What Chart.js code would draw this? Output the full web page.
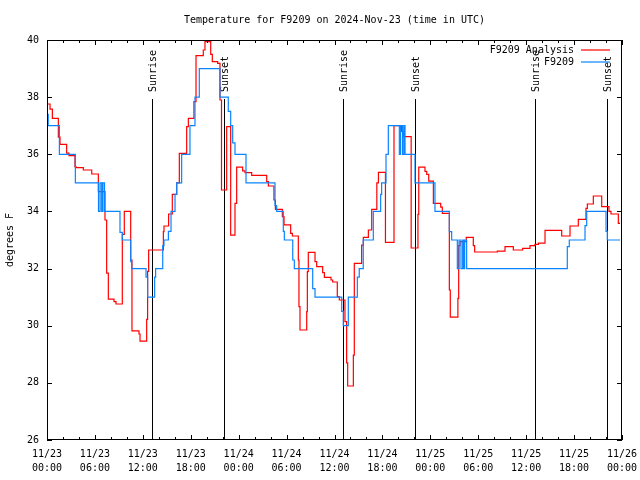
<!DOCTYPE html>
<html>
<head>
<meta charset="utf-8">
<script src="https://cdn.jsdelivr.net/npm/chart.js@4/dist/chart.umd.min.js"></script>
<style>
  html, body { margin: 0; padding: 0; background: #fff; }
  canvas { display: block; }
</style>
</head>
<body>
<canvas id="c" width="640" height="480"></canvas>
<script>
// ---- DATA (hours since 11/23 00:00 UTC, degrees F) ----
const titleText = 'Temperature for F9209 on 2024-Nov-23 (time in UTC)';
const yAxisTitle = 'degrees F';
const seriesNames = ['F9209 Analysis', 'F9209'];

const xTickHours = [0, 6, 12, 18, 24, 30, 36, 42, 48, 54, 60, 66, 72];
const xTickDates = ['11/23', '11/23', '11/23', '11/23', '11/24', '11/24', '11/24', '11/24', '11/25', '11/25', '11/25', '11/25', '11/26'];
const xTickTimes = ['00:00', '06:00', '12:00', '18:00', '00:00', '06:00', '12:00', '18:00', '00:00', '06:00', '12:00', '18:00', '00:00'];
const yTickValues = [26, 28, 30, 32, 34, 36, 38, 40];

const sunEventHours = [13.15, 22.16, 37.07, 46.08, 61.1, 70.1];
const sunEventLabels = ['Sunrise', 'Sunset', 'Sunrise', 'Sunset', 'Sunrise', 'Sunset'];

// F9209 Analysis (red) : [hour, value], value holds until next point
const analysisData = [
  [0, 37.76], [0.38, 37.58], [0.67, 37.26], [1.42, 36.6], [1.63, 36.35], [2.46, 36.04], [2.75, 35.95],
  [3.5, 35.57], [3.63, 35.53], [4.55, 35.45], [5.6, 35.31], [6.43, 34.69], [7.26, 33.7], [7.47, 31.84],
  [7.68, 30.93], [8.39, 30.84], [8.64, 30.76], [9.43, 33.2], [9.68, 34.0], [10.48, 32.3], [10.64, 29.82],
  [11.52, 29.71], [11.65, 29.46], [12.48, 30.22], [12.6, 31.9], [12.73, 32.65], [14.57, 33.29], [14.65, 33.49],
  [15.23, 33.91], [15.69, 34.6], [16.24, 35.0], [16.57, 36.03], [17.49, 36.97], [17.7, 37.26], [18.4, 37.84],
  [18.66, 39.45], [19.57, 39.65], [19.78, 39.94], [20.5, 39.5], [20.7, 39.24], [21.37, 39.18], [21.66, 37.9],
  [21.85, 34.75], [22.5, 36.97], [23.0, 33.17], [23.54, 34.28], [23.75, 35.55], [24.5, 35.42], [24.79, 35.36],
  [25.63, 35.26], [27.51, 35.04], [27.72, 34.89], [28.42, 34.4], [28.6, 34.07], [29.47, 33.82], [29.68, 33.53],
  [30.51, 33.23], [30.72, 33.14], [31.47, 32.3], [31.55, 30.67], [31.68, 29.85], [32.52, 30.49], [32.6, 31.89],
  [32.72, 32.57], [33.56, 32.24], [33.77, 32.07], [34.52, 31.86], [34.73, 31.69], [35.56, 31.6], [35.77, 31.53],
  [36.35, 31.02], [36.6, 30.9], [37.31, 30.14], [37.52, 28.7], [37.65, 27.89], [38.36, 28.97], [38.48, 32.18],
  [39.4, 32.82], [39.61, 33.09], [40.24, 33.35], [40.66, 34.07], [41.3, 35.0], [41.5, 35.37], [42.38, 32.92],
  [43.45, 37.0], [44.41, 36.8], [44.62, 36.62], [45.6, 32.72], [46.45, 33.9], [46.55, 35.55], [47.33, 35.4],
  [47.55, 35.3], [47.8, 35.06], [48.38, 34.28], [49.3, 34.15], [49.5, 33.93], [50.38, 31.25], [50.5, 30.3],
  [51.45, 30.96], [51.55, 32.8], [51.72, 32.94], [52.5, 33.09], [53.38, 32.8], [53.55, 32.58], [56.39, 32.61],
  [57.35, 32.77], [58.39, 32.65], [59.56, 32.71], [60.48, 32.8], [61.1, 32.85], [61.53, 32.89], [62.36, 33.34],
  [64.45, 33.14], [65.49, 33.49], [66.53, 33.72], [67.49, 34.11], [67.66, 34.26], [68.41, 34.54], [69.46, 34.17],
  [70.37, 34.0], [70.62, 33.91], [71.54, 33.58], [71.75, 33.58]
];

// F9209 observed (blue)
const observedData = [
  [0, 37.4], [0.15, 37], [1.55, 36], [3.55, 35], [6.45, 34], [6.65, 35], [6.85, 34], [7.0, 35], [7.2, 34],
  [9.14, 33.27], [9.43, 33], [10.48, 32.24], [10.6, 32], [12.4, 31.7], [12.6, 31], [13.48, 31.7], [13.6, 32],
  [14.49, 32.8], [14.65, 33], [15.2, 33.3], [15.53, 34], [16.03, 34.6], [16.24, 35], [16.86, 36], [17.9, 37],
  [18.53, 38], [19.07, 39], [21.66, 38], [22.7, 37.5], [23.0, 37], [23.25, 36.4], [23.54, 36], [24.92, 35],
  [28.55, 34.2], [28.76, 34], [29.59, 33.3], [29.72, 33], [30.77, 32.3], [30.97, 32], [33.27, 31.3], [33.56, 31],
  [36.9, 30.5], [37.1, 30], [37.73, 31], [38.86, 31.7], [39.1, 32], [39.6, 33], [40.86, 34], [41.78, 34.6],
  [41.9, 35], [42.45, 36], [42.74, 37], [44.12, 36], [44.28, 37], [44.53, 36], [44.7, 37], [44.83, 36],
  [46.08, 35], [48.58, 34], [50.38, 33.29], [50.67, 33], [51.38, 32], [51.59, 33], [51.84, 32], [52.05, 33],
  [52.2, 32], [52.3, 33], [52.55, 32], [65.15, 32.77], [65.4, 33], [67.37, 33.5], [67.58, 34], [70.0, 33.3],
  [70.16, 33], [71.75, 33]
];

const FONT = '"DejaVu Sans Mono", "Liberation Mono", monospace';
const RED = '#ff0000';
const BLUE = '#0a84ff';

const toXY = arr => arr.map(p => ({ x: p[0], y: p[1] }));

const decor = {
  id: 'decor',
  beforeDatasetsDraw(chart) {
    const { ctx, chartArea: a, scales: { x } } = chart;
    ctx.save();
    ctx.strokeStyle = '#000';
    ctx.lineWidth = 1;
    ctx.fillStyle = '#000';
    ctx.font = '10px ' + FONT;
    sunEventHours.forEach((h, i) => {
      const px = Math.round(x.getPixelForValue(h)) + 0.5;
      ctx.beginPath();
      ctx.moveTo(px, a.bottom);
      ctx.lineTo(px, a.top + 59);
      ctx.stroke();
      ctx.save();
      ctx.translate(px + 1, a.top + 52);
      ctx.rotate(-Math.PI / 2);
      ctx.textAlign = 'left';
      ctx.textBaseline = 'middle';
      ctx.fillText(sunEventLabels[i], 0, 0);
      ctx.restore();
    });
    ctx.restore();
  },
  afterDraw(chart) {
    const { ctx, chartArea: a, scales: { x, y } } = chart;
    ctx.save();
    ctx.strokeStyle = '#000';
    ctx.lineWidth = 1;
    // frame
    ctx.strokeRect(a.left + 0.5, a.top + 0.5, a.right - a.left - 1, a.bottom - a.top - 1);
    // y ticks (inward, mirrored)
    ctx.beginPath();
    yTickValues.forEach(v => {
      const py = Math.round(y.getPixelForValue(v)) + 0.5;
      ctx.moveTo(a.left, py); ctx.lineTo(a.left + 5, py);
      ctx.moveTo(a.right, py); ctx.lineTo(a.right - 5, py);
    });
    // x ticks every 2 hours, majors every 6
    for (let h = 0; h <= 72; h += 2) {
      const px = Math.round(x.getPixelForValue(h)) + 0.5;
      const len = (h % 6 === 0) ? 5 : 3;
      ctx.moveTo(px, a.bottom); ctx.lineTo(px, a.bottom - len);
      ctx.moveTo(px, a.top); ctx.lineTo(px, a.top + len);
    }
    ctx.stroke();

    ctx.fillStyle = '#000';
    ctx.font = '10px ' + FONT;
    // title
    ctx.textAlign = 'center';
    ctx.textBaseline = 'middle';
    ctx.fillText(titleText, (a.left + a.right) / 2, 20);
    // y title
    ctx.save();
    ctx.translate(10, (a.top + a.bottom) / 2);
    ctx.rotate(-Math.PI / 2);
    ctx.fillText(yAxisTitle, 0, 0);
    ctx.restore();
    // legend
    ctx.textAlign = 'right';
    const lx = a.right - 48;
    const colors = [RED, BLUE];
    seriesNames.forEach((name, i) => {
      const ly = a.top + 10 + i * 12;
      ctx.fillStyle = '#000';
      ctx.fillText(name, lx, ly);
      ctx.strokeStyle = colors[i];
      ctx.lineWidth = 1.2;
      ctx.beginPath();
      ctx.moveTo(lx + 7, ly); ctx.lineTo(lx + 36, ly);
      ctx.stroke();
    });
    ctx.restore();
  }
};

new Chart(document.getElementById('c'), {
  type: 'line',
  data: {
    datasets: [
      {
        label: seriesNames[0],
        data: toXY(analysisData),
        borderColor: RED,
        borderWidth: 1.2,
        pointRadius: 0,
        fill: false,
        stepped: true,
        order: 2
      },
      {
        label: seriesNames[1],
        data: toXY(observedData),
        borderColor: BLUE,
        borderWidth: 1.2,
        pointRadius: 0,
        fill: false,
        stepped: true,
        order: 1
      }
    ]
  },
  options: {
    responsive: false,
    animation: false,
    events: [],
    layout: { padding: { top: 40, right: 18, left: 0, bottom: 0 } },
    plugins: { legend: { display: false }, title: { display: false }, tooltip: { enabled: false } },
    scales: {
      x: {
        type: 'linear',
        min: 0,
        max: 72,
        grid: { display: false, drawTicks: false },
        border: { display: false },
        afterBuildTicks: s => { s.ticks = xTickHours.map(v => ({ value: v })); },
        afterFit: s => { s.height = 40; s.paddingLeft = 0; s.paddingRight = 0; },
        ticks: {
          autoSkip: false,
          maxRotation: 0,
          padding: 7,
          color: '#000',
          font: { family: FONT, size: 10, lineHeight: 1.4 },
          callback: (v) => {
            const i = xTickHours.indexOf(v);
            return i >= 0 ? [xTickDates[i], xTickTimes[i]] : '';
          }
        }
      },
      y: {
        min: 26,
        max: 40,
        grid: { display: false, drawTicks: false },
        border: { display: false },
        afterBuildTicks: s => { s.ticks = yTickValues.map(v => ({ value: v })); },
        afterFit: s => { s.width = 47; s.paddingTop = 0; s.paddingBottom = 0; },
        ticks: {
          padding: 8,
          color: '#000',
          font: { family: FONT, size: 10 }
        }
      }
    }
  },
  plugins: [decor]
});
</script>
</body>
</html>
